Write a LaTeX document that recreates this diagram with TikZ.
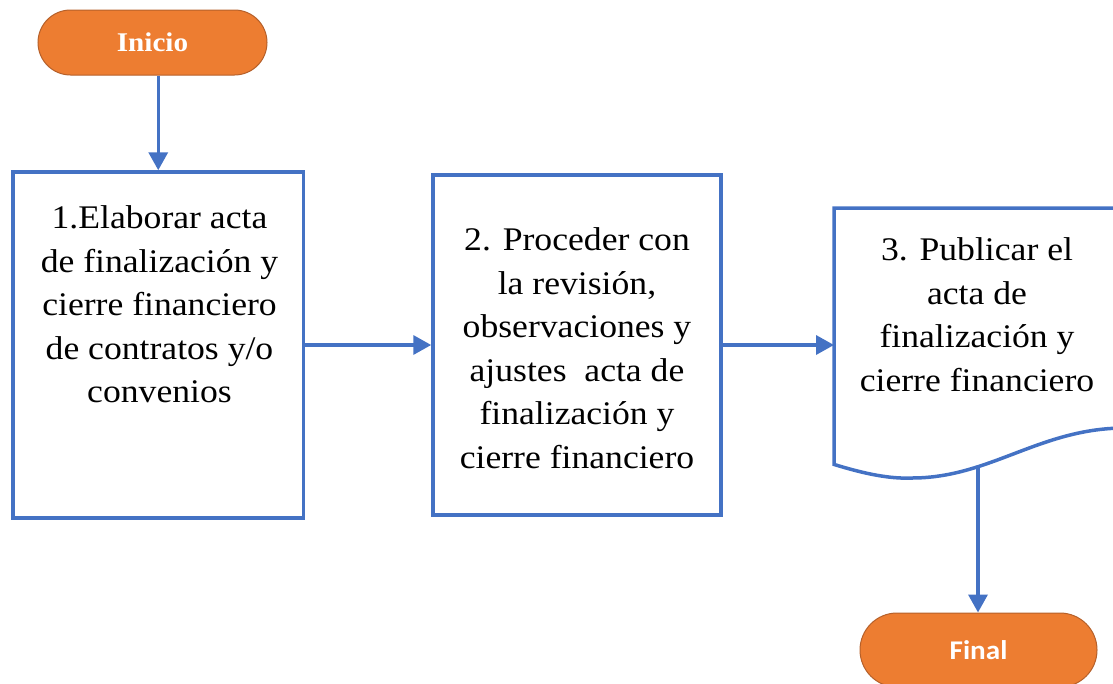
\documentclass[tikz,border=0pt]{standalone}
\usepackage{fontspec}
\usetikzlibrary{arrows.meta}
\newfontfamily\bodyfont{Liberation Serif}[FakeStretch=1.08]
\newfontfamily\termfont{Carlito}[FakeStretch=1.08]
\definecolor{flowblue}{HTML}{4472C4}
\definecolor{termorange}{HTML}{ED7D31}
\definecolor{termedge}{HTML}{B5602A}
\begin{document}
\begin{tikzpicture}[x=1pt,y=-1pt,
  procbox/.style={draw=flowblue, line width=3.5pt, rectangle, inner sep=0pt},
  bodytext/.style={font={\bodyfont\fontsize{33}{43.5}\selectfont}, align=center, inner sep=0pt, anchor=north},
  terminal/.style={fill=termorange, draw=termedge, line width=1pt, text=white, inner sep=0pt},
  flow/.style={draw=flowblue, line width=3.5pt, -{Triangle[length=18pt,width=19pt]}}]
\useasboundingbox (0,0) rectangle (1113,683);
\clip (0,0) rectangle (1113,683);

% start terminal
\node[terminal, minimum width=229pt, minimum height=65pt, rounded corners=32.5pt,
      font={\bodyfont\bfseries\fontsize{27}{30}\selectfont}] (inicio) at (152.5,42.5) {Inicio};

% process 1
\node[procbox, minimum width=290.5pt, minimum height=346pt] (b1) at (158.25,345) {};
\node[bodytext] (t1) at (159.5,205.5) {1.Elaborar acta\\de finalización y\\cierre financiero\\de contratos y/o\\convenios};

% process 2
\node[procbox, minimum width=288pt, minimum height=340pt] (b2) at (577,345) {};
\node[bodytext] (t2) at (577,227.5) {2. Proceder con\\la revisión,\\observaciones y\\ajustes\ \ acta de\\finalización y\\cierre financiero};

% document 3
\node[rectangle, inner sep=0pt, minimum width=300pt, minimum height=256pt, anchor=north west] (d3) at (834,208) {};
\draw[flowblue, line width=3.5pt, line join=miter]
  (1140,208) -- (d3.north west) -- (d3.south west)
  .. controls (865,474) and (890,479) .. (912,478)
  .. controls (990,478) and (1040,428) .. (1125,428) -- (1140,428);
\coordinate (wb) at (978,466);
\node[bodytext] (t3) at (977,237.5) {3. Publicar el\\acta de\\finalización y\\cierre financiero};

% end terminal
\node[terminal, minimum width=237pt, minimum height=74pt, rounded corners=37pt,
      font={\termfont\bfseries\fontsize{27}{30}\selectfont}] (final) at (978.5,650) {Final};

% connectors
\draw[flow] (b1.north |- inicio.south) -- (b1.north);
\draw[flow] (b1.east) -- (b2.west);
\draw[flow] (b2.east) -- (b2.east -| d3.west);
\draw[flow] (wb) -- (wb |- final.north);
\end{tikzpicture}
\end{document}
